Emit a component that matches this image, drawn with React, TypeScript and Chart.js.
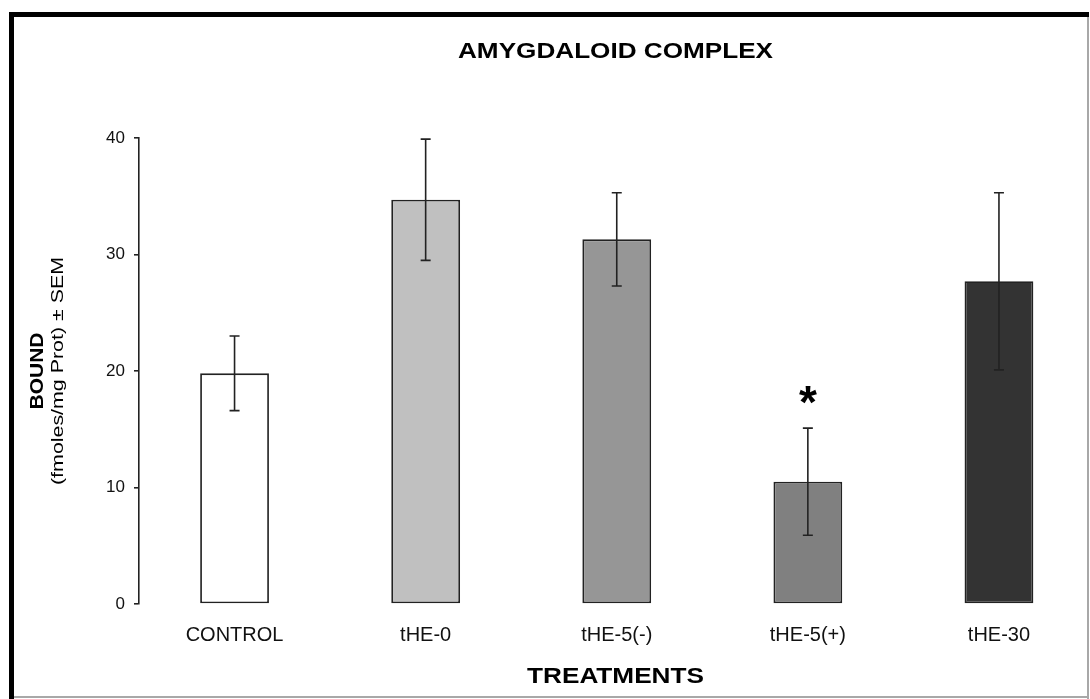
import React, { useEffect, useRef } from "react";
import { Chart, registerables } from "chart.js";

Chart.register(...registerables);

const categories = ["CONTROL", "tHE-0", "tHE-5(-)", "tHE-5(+)", "tHE-30"];
const boundValues = [19.8, 34.7, 31.3, 10.5, 27.7];
const semValues = [3.2, 5.2, 4.0, 4.6, 7.6];
const barColors = ["#ffffff", "#c0c0c0", "#969696", "#808080", "#333333"];
const significance = ["", "", "", "*", ""];
const yTickValues = [0, 10, 20, 30, 40];

const chartTitle = "AMYGDALOID COMPLEX";
const yTitleMain = "BOUND";
const yTitleSub = "(fmoles/mg Prot) \u00b1 SEM";
const xTitle = "TREATMENTS";

const FONT = "'Liberation Sans', Arial, sans-serif";

function drawStretched(
  ctx: CanvasRenderingContext2D,
  text: string,
  x: number,
  y: number,
  font: string,
  targetLen: number,
  angle: number
) {
  ctx.save();
  ctx.font = font;
  ctx.fillStyle = "#000";
  ctx.textAlign = "center";
  ctx.textBaseline = "middle";
  const w = ctx.measureText(text).width;
  ctx.translate(x, y);
  ctx.rotate(angle);
  ctx.scale(targetLen / w, 1);
  ctx.fillText(text, 0, 0);
  ctx.restore();
}

const decorPlugin = {
  id: "decor",
  beforeDraw(chart: any) {
    const ctx = chart.ctx as CanvasRenderingContext2D;
    ctx.save();
    ctx.fillStyle = "#ffffff";
    ctx.fillRect(0, 0, chart.width, chart.height);
    ctx.fillStyle = "#000";
    ctx.fillRect(9, 12, 1080, 5);
    ctx.fillRect(9, 12, 5, 690);
    ctx.fillStyle = "#a8a8a8";
    ctx.fillRect(1087, 17, 2, 682);
    ctx.fillRect(14, 696, 1075, 2);
    ctx.restore();
  },
  afterDatasetsDraw(chart: any) {
    const ctx = chart.ctx as CanvasRenderingContext2D;
    const xs = chart.scales.x;
    const ys = chart.scales.y;
    ctx.save();
    ctx.strokeStyle = "#222";
    ctx.lineWidth = 1.6;
    boundValues.forEach((v, i) => {
      const x = xs.getPixelForValue(i);
      const yTop = ys.getPixelForValue(v + semValues[i]);
      const yBot = ys.getPixelForValue(v - semValues[i]);
      ctx.beginPath();
      ctx.moveTo(x, yTop);
      ctx.lineTo(x, yBot);
      ctx.moveTo(x - 5, yTop);
      ctx.lineTo(x + 5, yTop);
      ctx.moveTo(x - 5, yBot);
      ctx.lineTo(x + 5, yBot);
      ctx.stroke();
      if (significance[i]) {
        ctx.fillStyle = "#000";
        ctx.font = `bold 46px ${FONT}`;
        ctx.textAlign = "center";
        ctx.textBaseline = "alphabetic";
        ctx.fillText(significance[i], x, yTop - 10);
      }
    });
    ctx.restore();
  },
  afterDraw(chart: any) {
    const ctx = chart.ctx as CanvasRenderingContext2D;
    const area = chart.chartArea;
    const cx = 615.5;
    drawStretched(ctx, chartTitle, cx, 52, `bold 22px ${FONT}`, 315, 0);
    drawStretched(ctx, xTitle, cx, 677, `bold 22px ${FONT}`, 177, 0);
    const cy = (area.top + area.bottom) / 2;
    drawStretched(ctx, yTitleMain, 38, cy, `bold 18px ${FONT}`, 77, -Math.PI / 2);
    drawStretched(ctx, yTitleSub, 58, cy, `17px ${FONT}`, 228, -Math.PI / 2);
  },
};

export default function App() {
  const canvasRef = useRef<HTMLCanvasElement | null>(null);

  useEffect(() => {
    const canvas = canvasRef.current;
    if (!canvas) return;
    const chart = new Chart(canvas, {
      type: "bar",
      data: {
        labels: categories,
        datasets: [
          {
            data: boundValues,
            backgroundColor: barColors,
            borderColor: "#222",
            borderWidth: 1.8,
            borderSkipped: false,
            barPercentage: 0.36,
            categoryPercentage: 1,
          },
        ],
      },
      options: {
        responsive: false,
        animation: false,
        devicePixelRatio: 1,
        layout: { padding: { top: 138, right: 15.5, bottom: 0, left: 0 } },
        plugins: {
          legend: { display: false },
          tooltip: { enabled: false },
          title: { display: false },
        },
        scales: {
          x: {
            type: "category",
            grid: { display: false, drawTicks: false },
            border: { display: false },
            ticks: {
              color: "#111",
              font: { family: FONT, size: 20 },
              padding: 19,
              maxRotation: 0,
              autoSkip: false,
            },
            afterFit: (scale: any) => {
              scale.height = 95;
            },
          },
          y: {
            min: 0,
            max: 40,
            afterBuildTicks: (scale: any) => {
              scale.ticks = yTickValues.map((v) => ({ value: v }));
            },
            grid: {
              drawOnChartArea: false,
              drawTicks: true,
              tickLength: 5,
              color: "#222",
              lineWidth: 1.6,
            },
            border: { display: true, color: "#222", width: 1.6 },
            ticks: {
              color: "#111",
              font: { family: FONT, size: 17 },
              padding: 9,
            },
            afterFit: (scale: any) => {
              scale.width = 139;
            },
          },
        },
      },
      plugins: [decorPlugin],
    } as any);
    return () => chart.destroy();
  }, []);

  return (
    <div
      style={{
        position: "fixed",
        left: 0,
        top: 0,
        width: 1090,
        height: 699,
        overflow: "hidden",
        background: "#fff",
      }}
    >
      <canvas ref={canvasRef} width={1110} height={699} />
    </div>
  );
}
